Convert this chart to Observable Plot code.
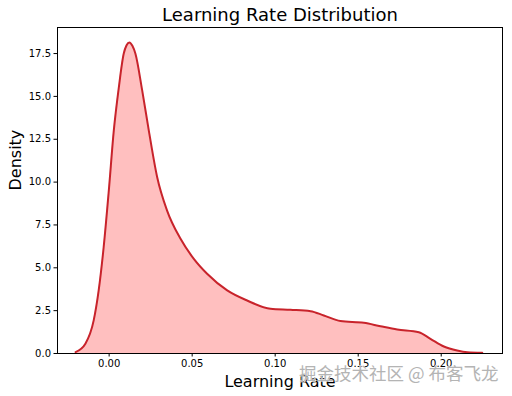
<!DOCTYPE html>
<html>
<head>
<meta charset="utf-8">
<script src="https://cdn.jsdelivr.net/npm/d3@7"></script>
<script src="https://cdn.jsdelivr.net/npm/@observablehq/plot@0.6"></script>
<style>
  html, body { margin: 0; padding: 0; background: #fff; }
  #chart svg { display: block; }
</style>
</head>
<body>
<div id="chart"></div>
<script>
// Data (KDE curve)
const learningRate = [-0.0202, -0.0143, -0.0093, -0.0063, -0.0033, -0.0002, 0.0028, 0.0058, 0.0088, 0.0105, 0.0122, 0.0140, 0.0158, 0.0199, 0.0239, 0.0289, 0.0349, 0.0430, 0.0510, 0.0590, 0.0711, 0.0831, 0.0972, 0.1092, 0.1213, 0.1293, 0.1393, 0.1534, 0.1634, 0.1735, 0.1865, 0.1935, 0.2016, 0.2096, 0.2157, 0.2247];
const density      = [0.08, 0.57, 1.93, 3.68, 6.2, 9.5, 13.0, 15.5, 17.5, 17.98, 18.15, 17.95, 17.5, 15.35, 13.0, 10.3, 8.34, 6.69, 5.52, 4.65, 3.68, 3.09, 2.61, 2.55, 2.47, 2.22, 1.89, 1.79, 1.59, 1.40, 1.24, 0.86, 0.41, 0.18, 0.08, 0.05];
const xTicks = [0, 0.05, 0.10, 0.15, 0.20];
const yTicks = [0, 2.5, 5, 7.5, 10, 12.5, 15, 17.5];
const titleText = "Learning Rate Distribution";
const xLabel = "Learning Rate";
const yLabel = "Density";
const watermark = "掘金技术社区 @ 布客飞龙";

const data = learningRate.map((x, i) => ({x, y: density[i]}));

const chart = Plot.plot({
  width: 512,
  height: 396,
  marginTop: 27,
  marginLeft: 57,
  marginRight: 10,
  marginBottom: 43,
  style: {fontFamily: "DejaVu Sans", fontSize: "10px", color: "#000", background: "#fff"},
  x: {domain: [-0.0311, 0.2369]},
  y: {domain: [0, 19.02]},
  marks: [
    Plot.areaY(data, {x: "x", y: "y", fill: "#ffbfbf", curve: "monotone-x"}),
    Plot.line(data, {x: "x", y: "y", stroke: "#c8232b", strokeWidth: 2, curve: "monotone-x"}),
    Plot.frame({stroke: "#000", strokeWidth: 1}),
    Plot.axisX({ticks: xTicks, tickFormat: d3.format(".2f"), tickSize: 3.5, tickPadding: 3, label: null, fontSize: 10}),
    Plot.axisY({ticks: yTicks, tickFormat: d3.format(".1f"), tickSize: 3.5, tickPadding: 3, label: null, fontSize: 10}),
    Plot.text([titleText], {frameAnchor: "top", lineAnchor: "middle", dy: -12, fontSize: 18, fill: "#000", text: d => d}),
    Plot.text([xLabel], {frameAnchor: "bottom", lineAnchor: "middle", dy: 28, fontSize: 16, fill: "#000", text: d => d}),
    Plot.text([yLabel], {frameAnchor: "left", lineAnchor: "middle", dx: -42, rotate: -90, fontSize: 16, fill: "#000", text: d => d}),
    Plot.text([watermark], {frameAnchor: "bottom-right", lineAnchor: "middle", dx: -4, dy: 21, textAnchor: "end", fontSize: 17.5, fontFamily: "Noto Sans CJK SC", fill: "#b4b4b4", stroke: "#ffffff", strokeWidth: 0.6, text: d => d})
  ]
});
document.getElementById("chart").appendChild(chart);
</script>
</body>
</html>
